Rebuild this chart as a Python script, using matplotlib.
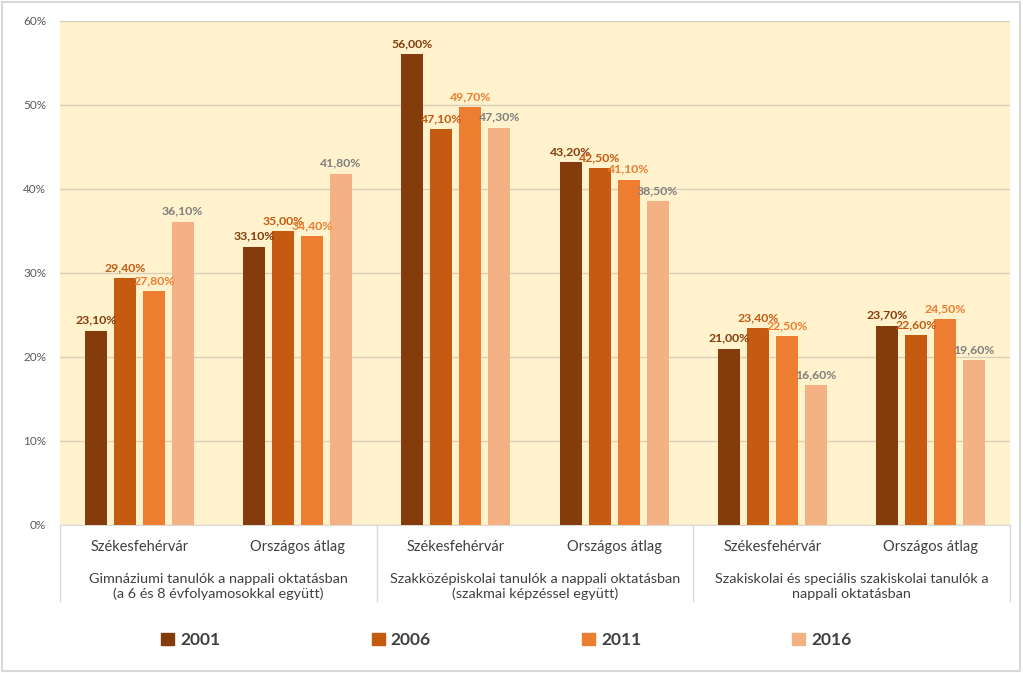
import numpy as np
import matplotlib.pyplot as plt
from matplotlib.patches import Patch
from matplotlib.lines import Line2D

plt.rcParams['font.family'] = ['Lato', 'DejaVu Sans']

years = ['2001', '2006', '2011', '2016']
places = ['Székesfehérvár', 'Országos átlag'] * 3
groups = ['Gimnáziumi tanulók a nappali oktatásban\n(a 6 és 8 évfolyamosokkal együtt)',
          'Szakközépiskolai tanulók a nappali oktatásban\n(szakmai képzéssel együtt)',
          'Szakiskolai és speciális szakiskolai tanulók a\nnappali oktatásban']
v2001 = [23.1, 33.1, 56.0, 43.2, 21.0, 23.7]
v2006 = [29.4, 35.0, 47.1, 42.5, 23.4, 22.6]
v2011 = [27.8, 34.4, 49.7, 41.1, 22.5, 24.5]
v2016 = [36.1, 41.8, 47.3, 38.5, 16.6, 19.6]
series = [v2001, v2006, v2011, v2016]

bar_cols = ['#843C0C', '#C55A11', '#ED7D31', '#F4B183']
lab_cols = ['#843C0C', '#C55A11', '#ED7D31', '#7F7F7F']

fig = plt.figure(figsize=(10.23, 6.73), dpi=100)
ax = fig.add_axes([0.0587, 0.22, 0.9286, 0.749])
ax.set_facecolor('#FFF2CC')

x = np.arange(len(places))
w = 0.14
step = 0.183
for i, vals in enumerate(series):
    pos = x + (i - 1.5) * step
    ax.bar(pos, vals, w, color=bar_cols[i], zorder=3)
    for p, v in zip(pos, vals):
        ax.text(p, v + 0.6, f'{v:.2f}%'.replace('.', ','), ha='center', va='bottom',
                fontsize=8.8, fontweight='bold', color=lab_cols[i], zorder=4)

ax.set_xlim(-0.5, 5.5)
ax.set_ylim(0, 60)
ax.set_yticks(range(0, 61, 10))
ax.set_yticklabels([f'{t}%' for t in range(0, 61, 10)], color='#595959', fontsize=8.5)
ax.yaxis.grid(True, color='#D9D0BC', lw=1, zorder=0)
ax.tick_params(axis='y', length=0, pad=10)
ax.set_xticks([])
for s in ['top', 'right', 'left']:
    ax.spines[s].set_visible(False)
ax.spines['bottom'].set_color('#D9D9D9')

# category labels under the axis
for xi, name in zip(x, places):
    ax.text(xi, -2.6, name, ha='center', va='center', fontsize=10.5, color='#404040')
for gi, g in enumerate(groups):
    ax.text(2 * gi + 0.5, -7.3, g, ha='center', va='center', fontsize=10.4,
            color='#404040', linespacing=1.25)
for b in [-0.5, 1.5, 3.5, 5.5]:
    ax.add_line(Line2D([b, b], [0, -9], color='#D9D9D9', lw=1, clip_on=False))

handles = [Patch(color=c) for c in bar_cols]
fig.legend(handles, years, loc='center', bbox_to_anchor=(0.495, 0.049), ncol=4,
           frameon=False, columnspacing=8.7, handlelength=0.75, handleheight=0.75,
           handletextpad=0.35, prop={'size': 12.5, 'weight': 'bold'}, labelcolor='#404040')

fig.patches.append(plt.Rectangle((0.002, 0.003), 0.995, 0.994, transform=fig.transFigure,
                                 fill=False, edgecolor='#D9D9D9', lw=1.5))
fig.savefig('out.png', dpi=100)
